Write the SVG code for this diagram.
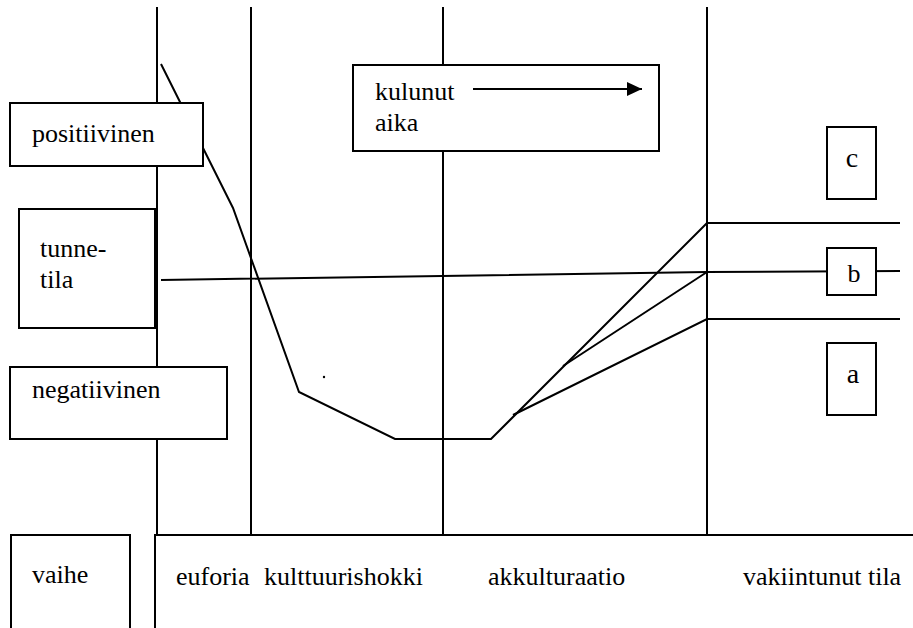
<svg xmlns="http://www.w3.org/2000/svg" width="913" height="628" viewBox="0 0 913 628">
<defs>
<marker id="ah" markerWidth="16" markerHeight="16" refX="15" refY="7" orient="auto" markerUnits="userSpaceOnUse">
<path d="M0,0 L15,7 L0,14 Z" fill="#000"/>
</marker>
</defs>
<rect width="913" height="628" fill="#fff"/>
<g id="connectors" stroke="#000" stroke-width="2" fill="none">
<line x1="157" y1="7" x2="157" y2="535"/>
<line x1="251" y1="7" x2="251" y2="535"/>
<line x1="443" y1="7" x2="443" y2="535"/>
<line x1="707" y1="7" x2="707" y2="535"/>
<polyline points="161,64 233,208 299,392 395,439 491,439 707,223 900,223"/>
<polyline points="513,415 707,319 900,319"/>
<polyline points="563,366 707,272"/>
<polyline points="161,280 707,272 900,271"/>
<circle cx="324" cy="377" r="1.2" fill="#000" stroke="none"/>
</g>
<g id="phase-bar">
<path d="M155,628 V535 H913" stroke="#000" stroke-width="2" fill="none"/>
<text font-family="Liberation Serif, Times New Roman, serif" font-size="26" x="176" y="585"><tspan font-family="Liberation Serif, Times New Roman, serif">euforia</tspan></text>
<text font-family="Liberation Serif, Times New Roman, serif" font-size="26" x="264" y="585"><tspan font-family="Liberation Serif, Times New Roman, serif">kulttuurishokki</tspan></text>
<text font-family="Liberation Serif, Times New Roman, serif" font-size="26" x="488" y="585"><tspan font-family="Liberation Serif, Times New Roman, serif">akkulturaatio</tspan></text>
<text font-family="Liberation Serif, Times New Roman, serif" font-size="26" x="743" y="585"><tspan font-family="Liberation Serif, Times New Roman, serif">vakiintunut tila</tspan></text>
</g>
<g id="vaihe">
<path d="M11,640 V535 H130 V640" stroke="#000" stroke-width="2" fill="#fff"/>
<text font-family="Liberation Serif, Times New Roman, serif" font-size="26" x="32" y="583"><tspan font-family="Liberation Serif, Times New Roman, serif">vaihe</tspan></text>
</g>
<g id="positiivinen">
<rect x="10" y="103" width="193" height="63" stroke="#000" stroke-width="2" fill="#fff"/>
<text font-family="Liberation Serif, Times New Roman, serif" font-size="26" x="32" y="142"><tspan font-family="Liberation Serif, Times New Roman, serif">positiivinen</tspan></text>
</g>
<g id="tunnetila">
<rect x="19" y="209" width="136" height="119" stroke="#000" stroke-width="2" fill="#fff"/>
<text font-family="Liberation Serif, Times New Roman, serif" font-size="26" x="40" y="257"><tspan font-family="Liberation Serif, Times New Roman, serif">tunne-</tspan></text>
<text font-family="Liberation Serif, Times New Roman, serif" font-size="26" x="40" y="288"><tspan font-family="Liberation Serif, Times New Roman, serif">tila</tspan></text>
</g>
<g id="negatiivinen">
<rect x="10" y="367" width="217" height="72" stroke="#000" stroke-width="2" fill="#fff"/>
<text font-family="Liberation Serif, Times New Roman, serif" font-size="26" x="32" y="398"><tspan font-family="Liberation Serif, Times New Roman, serif">negatiivinen</tspan></text>
</g>
<g id="kulunut-aika">
<rect x="353" y="65" width="306" height="86" stroke="#000" stroke-width="2" fill="#fff"/>
<text font-family="Liberation Serif, Times New Roman, serif" font-size="26" x="375" y="100"><tspan font-family="Liberation Serif, Times New Roman, serif">kulunut</tspan></text>
<text font-family="Liberation Serif, Times New Roman, serif" font-size="26" x="375" y="131"><tspan font-family="Liberation Serif, Times New Roman, serif">aika</tspan></text>
<line x1="473" y1="89" x2="642" y2="89" stroke="#000" stroke-width="2" marker-end="url(#ah)"/>
</g>
<g id="c">
<rect x="827" y="127" width="49" height="72" stroke="#000" stroke-width="2" fill="#fff"/>
<text font-family="Liberation Serif, Times New Roman, serif" font-size="28" x="852" y="167" text-anchor="middle"><tspan font-family="Liberation Serif, Times New Roman, serif">c</tspan></text>
</g>
<g id="b">
<rect x="827" y="248" width="49" height="47" stroke="#000" stroke-width="2" fill="#fff"/>
<text font-family="Liberation Serif, Times New Roman, serif" font-size="26" x="854" y="282" text-anchor="middle"><tspan font-family="Liberation Serif, Times New Roman, serif">b</tspan></text>
</g>
<g id="a">
<rect x="827" y="343" width="49" height="72" stroke="#000" stroke-width="2" fill="#fff"/>
<text font-family="Liberation Serif, Times New Roman, serif" font-size="28" x="853" y="383" text-anchor="middle"><tspan font-family="Liberation Serif, Times New Roman, serif">a</tspan></text>
</g>
</svg>
